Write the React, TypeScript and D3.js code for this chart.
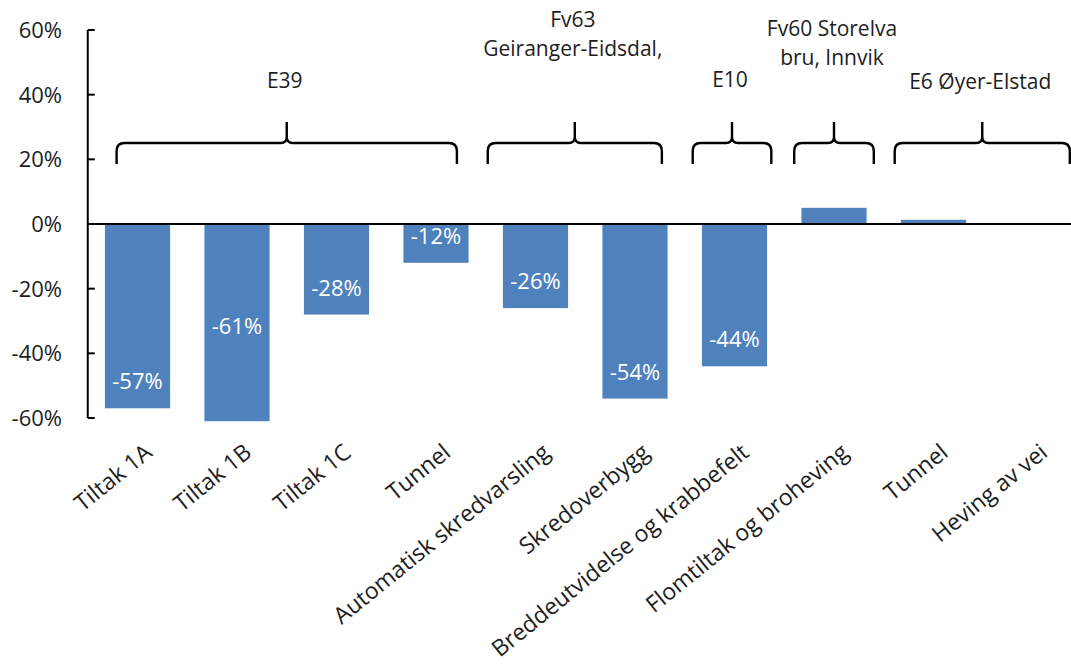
import React from "react";
import * as d3 from "d3";

// Measures and their change in risk
const categories = [
  "Tiltak 1A",
  "Tiltak 1B",
  "Tiltak 1C",
  "Tunnel",
  "Automatisk skredvarsling",
  "Skredoverbygg",
  "Breddeutvidelse og krabbefelt",
  "Flomtiltak og broheving",
  "Tunnel",
  "Heving av vei",
];
const values = [-0.57, -0.61, -0.28, -0.12, -0.26, -0.54, -0.44, 0.05, 0.013, 0];
// Which bars carry a value label
const showLabel = [true, true, true, true, true, true, true, false, false, false];
// Value level where the -61% label sits (placed higher inside its bar)
const labelOverride: Record<number, number> = { 1: -0.317 };

const yTicks = [-0.6, -0.4, -0.2, 0, 0.2, 0.4, 0.6];

// Road groups: label lines and span in category index units
const groupNames = [["E39"], ["Fv63", "Geiranger-Eidsdal,"], ["E10"], ["Fv60 Storelva", "bru, Innvik"], ["E6 Øyer-Elstad"]];
const groupFrom = [-0.21, 3.52, 5.58, 6.6, 7.61];
const groupTo = [3.21, 5.27, 6.37, 7.4, 9.37];

const W = 1071;
const H = 666;
const FONT = "'Open Sans', Lato, sans-serif";
const TEXT = "#1e1e1e";
const BAR = "#4f81bd";

// percent with a plain hyphen as minus sign
const pct = (v: number) => `${Math.round(v * 100)}%`;

export default function App() {
  const plotLeft = 87.75;
  const plotRight = 1082.75;
  const y = d3.scaleLinear().domain([-0.6, 0.6]).range([418, 30]);
  const x = d3
    .scaleBand<number>()
    .domain(d3.range(categories.length))
    .range([plotLeft, plotRight])
    .paddingInner(0.345)
    .paddingOuter(0.1725);
  const center = (i: number) => (x(i) as number) + x.bandwidth() / 2;
  // maps a fractional category index to a pixel position
  const idx = d3.scaleLinear().domain([0, 1]).range([center(0), center(1)]);

  const bracePath = (x0: number, x1: number) => {
    const yt = 143;
    const yb = 164;
    const tip = 122;
    const r = 8;
    const xm = (x0 + x1) / 2;
    const s = 6;
    return [
      `M${x0},${yb}`,
      `L${x0},${yt + r}`,
      `Q${x0},${yt} ${x0 + r},${yt}`,
      `L${xm - s},${yt}`,
      `Q${xm},${yt} ${xm},${yt - s}`,
      `L${xm},${tip}`,
      `M${xm},${yt - s}`,
      `Q${xm},${yt} ${xm + s},${yt}`,
      `L${x1 - r},${yt}`,
      `Q${x1},${yt} ${x1},${yt + r}`,
      `L${x1},${yb}`,
    ].join(" ");
  };

  const groupLabelBottom = [88, 56, 87, 65, 89];

  return (
    <svg
      width={W}
      height={H}
      style={{ position: "absolute", left: 0, top: 0, background: "#fff" }}
      fontFamily={FONT}
    >
      {/* bars */}
      {values.map((v, i) => (
        <rect
          key={`b${i}`}
          x={x(i)}
          y={y(Math.max(0, v))}
          width={x.bandwidth()}
          height={Math.abs(y(v) - y(0))}
          fill={BAR}
        />
      ))}

      {/* value labels */}
      {values.map((v, i) =>
        showLabel[i] ? (
          <text
            key={`l${i}`}
            x={center(i)}
            y={(labelOverride[i] !== undefined ? y(labelOverride[i]) : y(v) - 27) + 8}
            textAnchor="middle"
            fontSize={22}
            fill="#fff"
          >
            {pct(v)}
          </text>
        ) : null
      )}

      {/* y axis */}
      <line x1={plotLeft} x2={plotLeft} y1={y(0.6)} y2={y(-0.6)} stroke="#000" strokeWidth={2} />
      {yTicks.map((t) => (
        <g key={`t${t}`}>
          <line x1={plotLeft} x2={plotLeft + 7} y1={y(t)} y2={y(t)} stroke="#000" strokeWidth={2} />
          <text x={62} y={y(t) + 8} textAnchor="end" fontSize={22} fill={TEXT}>
            {pct(t)}
          </text>
        </g>
      ))}

      {/* zero baseline */}
      <line x1={plotLeft} x2={W} y1={y(0)} y2={y(0)} stroke="#000" strokeWidth={2} />

      {/* category labels */}
      {categories.map((c, i) => (
        <text
          key={`c${i}`}
          transform={`translate(${center(i) + 16},${455}) rotate(-39)`}
          textAnchor="end"
          fontSize={23}
          fill={TEXT}
        >
          {c}
        </text>
      ))}

      {/* road group braces and names */}
      {groupNames.map((lines, g) => {
        const x0 = idx(groupFrom[g]);
        const x1 = idx(groupTo[g]);
        const xm = (x0 + x1) / 2;
        return (
          <g key={`g${g}`}>
            <path d={bracePath(x0, x1)} fill="none" stroke="#000" strokeWidth={2.4} strokeLinejoin="round" />
            {lines.map((ln, k) => (
              <text
                key={k}
                x={xm - 2}
                y={groupLabelBottom[g] - (lines.length - 1 - k) * 29}
                textAnchor="middle"
                fontSize={21}
                fill={TEXT}
              >
                {ln}
              </text>
            ))}
          </g>
        );
      })}
    </svg>
  );
}
